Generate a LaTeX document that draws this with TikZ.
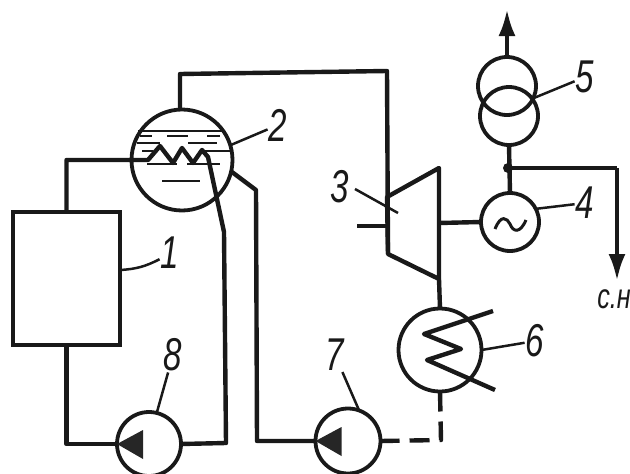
\documentclass[tikz,border=0pt]{standalone}
\usepackage{fontspec}
\setmainfont{Liberation Sans}
\newfontfamily\numfont[FakeStretch=0.72]{Liberation Sans Italic}
\usetikzlibrary{
  arrows.meta, % Latex tips
  calc
}
\tikzset{
  pipe/.style={
    line width=4.4pt,
    color=black!90,
    line join=round
  },
  steam out/.style={
    pipe,
    -{Latex[length=27pt,width=17pt]}
  },
  vessel/.style={
    circle,
    draw=black!90,
    line width=3.8pt,
    inner sep=0pt,
    outer sep=0pt
  },
  level mark/.style={
    line width=2.2pt,
    color=black!90
  },
  leader/.style={
    line width=2.5pt,
    color=black!90
  },
  num label/.style={
    font=\numfont\fontsize{46}{46}\selectfont,
    color=black!90,
    inner sep=1pt
  },
  pump tip/.style={
    fill=black!85
  }
}

\begin{document}
\begin{tikzpicture}[x=1pt, y=-1pt, >=Latex]
  \useasboundingbox (0,0) rectangle (630,474);

  % apparatus
  \node[draw=black!90, line width=4.4pt, minimum width=107pt, minimum height=133pt,
        inner sep=0pt, outer sep=0pt] (boiler) at (66.5,278.5) {};
  \node[vessel, minimum size=101pt] (drum) at (182,160) {};
  \node[vessel, minimum size=58pt] (gen) at (510,222) {};
  \node[vessel, minimum size=58pt] (trafoLow) at (509,116) {};
  \node[vessel, minimum size=58pt] (trafoUp) at (507,86) {};
  \node[vessel, minimum size=83pt] (cond) at (440,350) {};
  \node[vessel, minimum size=65pt] (pumpCond) at (348,441) {};
  \node[vessel, minimum size=64pt] (pumpFeed) at (149,444) {};

  % turbine outline
  \coordinate (turbA) at (387,197);
  \coordinate (turbB) at (439,168);
  \coordinate (turbC) at (439,279);
  \coordinate (turbD) at (388,254);
  \draw[pipe] (turbA) -- (turbB) -- (turbC) -- (turbD) -- cycle;

  % steam from drum to turbine
  \coordinate (steamTop) at (180,74);
  \coordinate (steamRight) at (387,71);
  \draw[pipe] (drum.north -| steamTop) -- (steamTop) -- (steamRight) -- (turbD);
  \coordinate (bleed) at (357,226);
  \draw[pipe] (bleed) -- (387,226);

  % shaft and electrical side
  \draw[pipe] (439,223) -- (gen.west);
  \draw[pipe] (gen.north) -- (trafoLow.south);
  \coordinate (bus) at (508,168);
  \fill[black!90] (bus) circle (5pt);
  \coordinate (gridOut) at (507,9);
  \draw[steam out] (trafoUp.north) -- (gridOut);
  \coordinate (auxBend) at (617,168);
  \coordinate (auxOut) at (617,281);
  \draw[pipe] (bus) -- (auxBend);
  \draw[steam out] (auxBend) -- (auxOut);
  \draw[line width=3pt, color=black!90] (495,229) .. controls (501,214) and (507,218) .. (510,224)
    .. controls (513,232) and (520,234) .. (526,220);

  % water level in drum
  \foreach \y/\xa/\xb in {131/138/222, 136/140/152, 136/167/188, 136/207/220, 143/137/160,
    143/188/217, 151/142/153, 151/203/230, 164/147/177, 164/187/220, 181/162/200} {
    \draw[level mark] (\xa,\y) -- (\xb,\y);
  }

  % boiler risers and drum coil
  \coordinate (coilIn) at (148,160);
  \coordinate (coilOut) at (208,157);
  \coordinate (coilKink) at (224,232);
  \coordinate (feedCorner) at (226,443);
  \draw[pipe] (boiler.north) |- (coilIn) -- (160,146) -- (173,163) -- (182,148) -- (193,163)
    -- (202,150) -- (coilOut) -- (coilKink) -- (feedCorner) -- (pumpFeed.east);
  \draw[pipe] (pumpFeed.west) -| (boiler.south);

  % drum to pump 7
  \coordinate (downA) at (256,190);
  \coordinate (downB) at (257,441);
  \draw[pipe] (232,172) -- (downA) -- (downB) -- (pumpCond.west);

  % condenser
  \draw[pipe] (turbC) -- (cond.north);
  \draw[pipe] (493,311) -- (424,334) -- (461,349) -- (427,360) -- (495,390);
  \coordinate (condCorner) at (441,440);
  \draw[pipe, dash pattern=on 20pt off 10pt] (cond.south) -- (condCorner) -- (pumpCond.east);

  % pump wedges
  \foreach \p in {pumpCond, pumpFeed} {
    \fill[pump tip] (\p.west) -- ++(26,-14) -- ++(0,29) -- cycle;
  }

  % numbers
  \node[num label] (numA) at (170,253) {1};
  \node[num label] (numB) at (278,125) {2};
  \node[num label] (numC) at (340,187) {3};
  \node[num label] (numD) at (585,203) {4};
  \node[num label] (numE) at (585,77) {5};
  \node[num label] (numF) at (535,341) {6};
  \node[num label] (numG) at (335,355) {7};
  \node[num label] (numH) at (173,355) {8};
  \node[font=\numfont\fontsize{35}{35}\selectfont, color=black!90, inner sep=0pt] (auxText) at (614,299) {с.н};

  % leaders
  \draw[leader] (boiler.east |- 0,270) to[bend right=12] (numA);
  \draw[leader] (drum.17) -- (numB);
  \draw[leader] (turbA |- 0,189) ++(-32,0) -- (398,213);
  \draw[leader] (gen.27) -- (numD);
  \draw[leader] (trafoUp.335) -- (numE);
  \draw[leader] (cond.east) -- (numF);
  \draw[leader] (pumpCond.70) -- (numG);
  \draw[leader] (pumpFeed.north) ++(8,0) -- (numH);

\end{tikzpicture}
\end{document}
